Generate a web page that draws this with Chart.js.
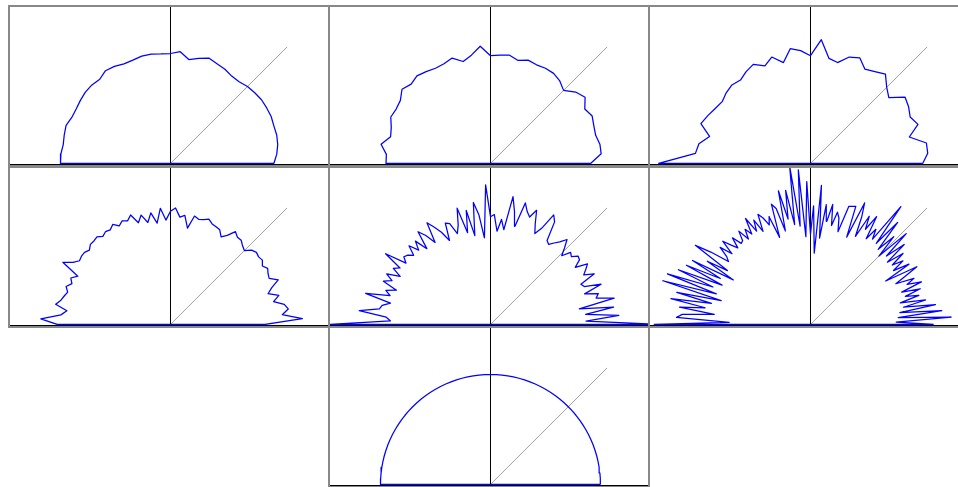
<!DOCTYPE html>
<html>
<head>
<meta charset="utf-8">
<script src="https://cdn.jsdelivr.net/npm/chart.js@4.4.1/dist/chart.umd.min.js"></script>
<style>
  html, body { margin: 0; padding: 0; background: #fff; }
  body { width: 958px; height: 487px; position: relative; overflow: hidden; }
  .panel { position: absolute; width: 322px; height: 162px; box-sizing: border-box; border: 2px solid #888; background: #fff; }
  .panel canvas { display: block; }
</style>
</head>
<body>
<script>
// axis ranges, in units of the unit radius
const X_MIN = -1.459, X_MAX = 1.432;
const Y_MIN = -0.005, Y_MAX = 1.423;
const diagonalEnd = 1.06;

// angle step (degrees) of each panel, from 0 to 180
const stepDeg = [5, 5, 5, 2.5, 2, 1.5, 3];

// radius at each angle
const radii1 = [0.94, 0.97, 0.99, 1.00, 1.00, 1.01, 1.01, 1.01, 1.00, 0.99,
  0.97, 0.97, 0.99, 1.00, 1.02, 0.99, 0.96, 1.02, 1.00, 1.00,
  1.01, 1.01, 1.00, 1.00, 1.02, 1.03, 1.00, 1.01, 1.01, 1.00,
  0.99, 0.99, 1.01, 1.00, 0.99, 1.00, 1.00];

const radii2 = [0.91, 1.01, 1.01, 0.99, 1.00, 1.02, 0.99, 1.05, 1.01, 0.94,
  0.98, 1.00, 1.00, 0.99, 1.00, 0.97, 1.00, 0.99, 0.98, 1.07,
  1.00, 0.96, 1.02, 1.00, 1.00, 1.02, 1.04, 1.02, 1.05, 1.00,
  0.99, 1.00, 0.96, 0.94, 1.01, 0.95, 0.95];

const radii3 = [1.02, 1.07, 1.07, 0.93, 1.04, 1.00, 1.03, 1.05, 0.93, 0.98,
  1.06, 1.02, 0.99, 1.06, 1.03, 0.95, 0.97, 1.13, 0.98, 1.03,
  1.06, 0.95, 1.03, 0.98, 1.04, 1.02, 0.99, 1.01, 1.00, 0.98,
  1.00, 1.03, 1.06, 0.95, 1.03, 1.05, 1.38];

const radii4 = [0.86, 1.20, 1.02, 1.08, 1.05, 0.96, 1.02, 0.93, 0.98, 1.06,
  0.99, 1.00, 1.02, 0.99, 1.02, 1.01, 1.02, 1.00, 0.95, 0.97,
  1.00, 1.00, 1.03, 0.96, 0.92, 0.97, 0.98, 0.99, 1.02, 1.00,
  0.99, 1.01, 0.89, 1.00, 0.98, 1.06, 1.03, 0.95, 1.06, 0.93,
  1.03, 0.95, 1.03, 0.97, 1.06, 1.02, 1.04, 1.01, 1.05, 1.02,
  1.03, 1.01, 1.04, 1.03, 1.03, 1.00, 1.02, 1.02, 1.01, 1.05,
  1.13, 0.95, 1.00, 0.97, 1.01, 0.98, 1.00, 1.02, 1.06, 0.95,
  1.00, 1.18, 1.03];

const radii5 = [1.55, 0.87, 1.17, 0.87, 1.13, 0.82, 1.15, 0.99, 1.02, 0.90,
  1.07, 0.92, 0.90, 1.05, 0.96, 1.00, 1.04, 0.93, 1.00, 1.01,
  0.96, 0.98, 0.90, 0.97, 1.04, 0.98, 0.94, 0.90, 0.92, 1.10,
  1.15, 0.99, 0.92, 1.00, 1.12, 1.04, 1.08, 1.15, 0.92, 1.05,
  1.18, 0.87, 0.96, 0.85, 1.00, 0.98, 1.27, 0.79, 1.00, 1.12,
  0.82, 1.06, 0.86, 1.10, 0.95, 0.88, 0.99, 1.01, 0.85, 0.95,
  1.02, 1.09, 0.90, 1.00, 1.07, 0.90, 1.02, 0.94, 1.03, 0.94,
  0.98, 1.00, 0.95, 1.15, 0.97, 1.02, 0.93, 1.05, 0.98, 1.05,
  0.91, 1.00, 0.95, 1.17, 0.93, 1.00, 1.02, 1.20, 0.95, 0.91,
  1.47];

const radii6 = [1.12, 0.78, 1.28, 0.80, 1.20, 0.82, 1.15, 0.86, 1.07, 0.84,
  1.02, 0.90, 1.05, 0.88, 1.08, 0.95, 1.03, 0.86, 0.97, 1.10,
  0.79, 1.05, 0.90, 1.02, 0.92, 1.06, 0.90, 1.12, 0.93, 1.20,
  0.88, 1.10, 0.92, 1.22, 0.95, 1.35, 0.96, 1.05, 0.93, 1.15,
  1.00, 1.12, 0.90, 1.08, 1.21, 0.86, 1.15, 1.14, 1.13, 0.88,
  1.00, 1.05, 0.92, 1.11, 0.95, 1.10, 0.79, 1.27, 0.65, 1.08,
  0.82, 1.30, 0.80, 1.41, 0.90, 1.45, 0.92, 1.24, 0.98, 1.25,
  0.88, 1.10, 1.15, 0.84, 1.05, 0.98, 1.06, 1.11, 0.95, 1.08,
  0.98, 1.13, 0.98, 1.05, 0.96, 1.07, 0.98, 0.97, 1.06, 0.96,
  1.02, 1.10, 0.96, 1.08, 0.98, 0.94, 1.12, 1.27, 0.90, 1.10,
  0.81, 1.22, 0.92, 1.25, 0.88, 1.30, 0.95, 1.38, 0.90, 1.40,
  0.84, 1.25, 0.92, 1.29, 0.97, 1.20, 0.88, 1.17, 1.22, 0.74,
  1.42];

const radii7 = [1, 1, 1, 1, 1, 1, 1, 1, 1, 1,
  1, 1, 1, 1, 1, 1, 1, 1, 1, 1,
  1, 1, 1, 1, 1, 1, 1, 1, 1, 1,
  1, 1, 1, 1, 1, 1, 1, 1, 1, 1,
  1, 1, 1, 1, 1, 1, 1, 1, 1, 1,
  1, 1, 1, 1, 1, 1, 1, 1, 1, 1,
  1];

const panelRadii = [radii1, radii2, radii3, radii4, radii5, radii6, radii7];

// where each panel goes: [column, row]
const panelCell = [[0, 0], [1, 0], [2, 0], [0, 1], [1, 1], [2, 1], [1, 2]];
const rowTop = [5, 166, 326];

// polar radii -> x/y points, closed back to the first one along the baseline
function toPoints(radii, step) {
  const pts = radii.map((r, i) => {
    const a = i * step * Math.PI / 180;
    return { x: r * Math.cos(a), y: r * Math.sin(a) };
  });
  pts.push({ x: pts[0].x, y: pts[0].y });
  return pts;
}

panelRadii.forEach((radii, p) => {
  const div = document.createElement('div');
  div.className = 'panel';
  div.style.left = (8 + 320 * panelCell[p][0]) + 'px';
  div.style.top = rowTop[panelCell[p][1]] + 'px';
  const canvas = document.createElement('canvas');
  canvas.width = 318;
  canvas.height = 158;
  div.appendChild(canvas);
  document.body.appendChild(div);

  new Chart(canvas.getContext('2d'), {
    type: 'scatter',
    data: {
      datasets: [
        {
          data: toPoints(radii, stepDeg[p]),
          showLine: true,
          borderColor: '#0000ff',
          borderWidth: 1.25,
          borderJoinStyle: 'round',
          pointRadius: 0,
          tension: 0
        },
        {
          data: [{ x: 0, y: 0 }, { x: diagonalEnd, y: diagonalEnd }],
          showLine: true,
          borderColor: '#a0a0a0',
          borderWidth: 1,
          pointRadius: 0
        },
        {
          data: [{ x: 0, y: Y_MIN }, { x: 0, y: Y_MAX }],
          showLine: true,
          borderColor: '#000000',
          borderWidth: 1,
          pointRadius: 0
        }
      ]
    },
    options: {
      responsive: false,
      maintainAspectRatio: false,
      animation: false,
      devicePixelRatio: 1,
      events: [],
      layout: { padding: { left: 0, right: 0, top: 0, bottom: 1 } },
      plugins: { legend: { display: false }, tooltip: { enabled: false } },
      scales: {
        x: {
          type: 'linear',
          min: X_MIN,
          max: X_MAX,
          grid: { display: false, drawTicks: false },
          ticks: { display: false },
          border: { display: true, color: '#000000', width: 1 }
        },
        y: {
          type: 'linear',
          min: Y_MIN,
          max: Y_MAX,
          display: false
        }
      }
    }
  });
});
</script>
</body>
</html>
